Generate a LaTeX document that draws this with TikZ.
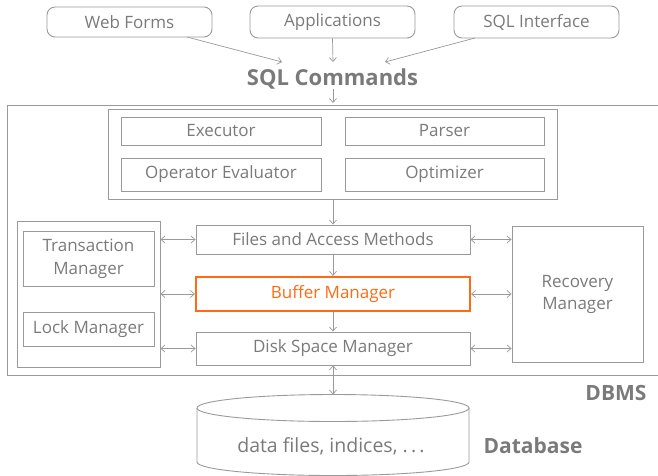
\documentclass[tikz,border=0pt]{standalone}
\usepackage{fontspec}
\setmainfont{Open Sans}
\usetikzlibrary{arrows.meta}
\definecolor{ln}{HTML}{9A9A9A}
\definecolor{tx}{HTML}{7A7A7A}
\definecolor{org}{HTML}{FF6A13}
\begin{document}
\begin{tikzpicture}[x=1pt,y=-1pt,
  box/.style={draw=ln, line width=0.9pt, text=tx, font=\fontsize{17}{22}\selectfont, inner sep=0pt, align=center},
  rbox/.style={box, rounded corners=8pt},
  arr/.style={draw=ln, line width=0.7pt, -{Straight Barb[length=4pt,width=7pt]}},
  darr/.style={draw=ln, line width=0.7pt, {Straight Barb[length=4pt,width=7pt]}-{Straight Barb[length=4pt,width=7pt]}},
  big/.style={text=tx, font=\fontsize{21}{23}\selectfont\bfseries, inner sep=0pt}]
\useasboundingbox (0,0) rectangle (658,475);
% top sources
\node[rbox, minimum width=165pt, minimum height=30pt] (web) at (129.5,22) {Web Forms};
\node[rbox, minimum width=165pt, minimum height=32pt] (app) at (332.5,22) {Applications};
\node[rbox, minimum width=165pt, minimum height=32pt] (sqli) at (536.5,22) {SQL Interface};
\node[big, font=\fontsize{22}{24}\selectfont\bfseries] (sqlc) at (332.5,79) {SQL Commands};
\coordinate (c1) at (282,62);
\coordinate (c2) at (333,62);
\coordinate (c3) at (385,62);
\coordinate (w0) at (187,37);
\coordinate (s0) at (475,38);
\draw[arr] (w0) -- (c1);
\draw[arr] (app.south) -- (c2);
\draw[arr] (s0) -- (c3);
% DBMS outer box
\draw[ln, line width=0.9pt] (662,105) -- (7,105) -- (7,375) -- (662,375);
\coordinate (dbmsTop) at (333,103);
\coordinate (sq0) at (333,89);
\draw[arr] (sq0) -- (dbmsTop);
% query box
\node[box, minimum width=449pt, minimum height=90pt] (qbox) at (333,154) {};
\node[box, minimum width=200pt, minimum height=28pt] (exe) at (221,131) {Executor};
\node[box, minimum width=200pt, minimum height=33pt] (ope) at (221,174.5) {Operator Evaluator};
\node[box, minimum width=199pt, minimum height=28pt] (par) at (444.5,131) {Parser};
\node[box, minimum width=199pt, minimum height=33pt] (opt) at (444.5,174.5) {Optimizer};
% left group
\node[box, minimum width=143pt, minimum height=146pt] (lgrp) at (88.5,294) {};
\node[box, minimum width=131pt, minimum height=55pt] (tm) at (88.5,258.5) {Transaction\\[1pt]Manager};
\node[box, minimum width=131pt, minimum height=34pt] (lm) at (88.5,329) {Lock Manager};
% middle stack
\node[box, minimum width=274pt, minimum height=29pt] (fam) at (333,239.5) {Files and Access Methods};
\node[box, draw=org, line width=2.2pt, text=org, minimum width=274pt, minimum height=34pt] (bm) at (333,294) {Buffer Manager};
\node[box, minimum width=274pt, minimum height=33pt] (dsm) at (333,348.5) {Disk Space Manager};
% recovery
\node[box, minimum width=131pt, minimum height=136pt] (rm) at (577.5,294) {Recovery\\Manager};
% vertical arrows
\draw[arr] (qbox.south -| fam.north) -- (fam.north);
\draw[arr] (fam.south) -- (bm.north);
\draw[arr] (bm.south) -- (dsm.north);
% horizontal double arrows
\draw[darr] (lgrp.east |- fam.west) -- (fam.west);
\draw[darr] (lgrp.east |- bm.west) -- (bm.west);
\draw[darr] (lgrp.east |- dsm.west) -- (dsm.west);
\draw[darr] (fam.east) -- (rm.west |- fam.east);
\draw[darr] (bm.east) -- (rm.west |- bm.east);
\draw[darr] (dsm.east) -- (rm.west |- dsm.east);
% database cylinder
\draw[ln, line width=0.9pt] (333,408) ellipse [x radius=136pt, y radius=13.5pt];
\draw[ln, line width=0.9pt] (197,408) -- (197,462) arc[start angle=180, end angle=360, x radius=136pt, y radius=13.5pt] -- (469,408);
\coordinate (dbtop) at (333,394.5);
\node[text=tx, font=\fontsize{19.5}{22}\selectfont, inner sep=0pt] (dbtxt) at (331,446) {data files, indices, .\,.\,.};
\draw[darr] (dsm.south) -- (dbtop);
\node[big] (dbms) at (616,393) {DBMS};
\node[big] (dbl) at (533,446) {Database};
\end{tikzpicture}
\end{document}
